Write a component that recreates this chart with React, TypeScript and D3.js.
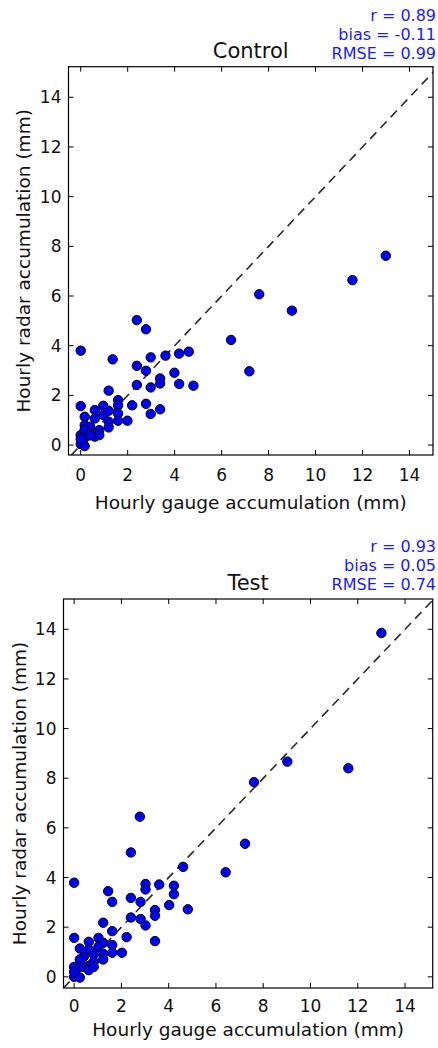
import React from "react";
import * as d3 from "d3";

// gauge vs radar hourly accumulation (mm)
const controlGauge = [2.39, 2.78, 0, 1.36, 6.4, 7.18, 2.39, 2.98, 3.61, 4.19, 4.6, 2.78, 3.99, 3.38, 2.39, 2.98, 3.38, 4.19, 4.8, 1.19, 0, 1.59, 1.59, 2.19, 2.78, 3.38, 2.98, 0.96, 0.6, 0.96, 1.19, 1.59, 0.17, 0.6, 1.19, 1.59, 1.99, 1.19, 0.17, 0.4, 0.79, 0, 0.17, 0.4, 0.6, 0.79, 0, 0.17, 0.17, 0.4, 0, 7.6, 8.99, 11.57, 12.99];
const controlRadar = [5.03, 4.66, 3.8, 3.45, 4.23, 2.97, 3.19, 3.53, 3.6, 3.68, 3.76, 2.99, 2.91, 2.68, 2.42, 2.32, 2.48, 2.46, 2.39, 2.19, 1.57, 1.81, 1.6, 1.6, 1.66, 1.44, 1.25, 1.58, 1.41, 1.21, 1.38, 1.27, 1.14, 1.07, 0.94, 0.98, 0.98, 0.71, 0.8, 0.74, 0.6, 0.4, 0.62, 0.47, 0.34, 0.4, 0.04, -0.04, 0.3, 0.39, 0.24, 6.07, 5.41, 6.64, 7.62];

const testGauge = [2.78, 2.4, 7.23, 6.41, 4.61, 0, 1.44, 1.61, 3.02, 3.02, 3.6, 4.22, 4.22, 2.4, 2.81, 4.02, 3.42, 3.42, 4.81, 2.4, 2.81, 3.02, 1.23, 1.61, 2.22, 3.42, 0, 0.62, 1.03, 1.23, 1.03, 1.61, 1.61, 2.02, 0.24, 0.62, 1.23, 0.83, 1.23, 0.41, 0.24, 0.83, 0.62, 0.41, 0.24, 0, 0, 0.24, 0, 0.62, 0.83, 7.61, 9.02, 11.6, 13.0];
const testRadar = [6.45, 5.01, 5.36, 4.21, 4.43, 3.79, 3.45, 3.02, 3.74, 3.52, 3.72, 3.67, 3.33, 3.18, 3.02, 2.89, 2.69, 2.46, 2.72, 2.39, 2.33, 2.07, 2.18, 1.84, 1.6, 1.44, 1.57, 1.41, 1.57, 1.37, 1.22, 1.28, 0.97, 0.97, 1.14, 1.1, 0.93, 0.9, 0.7, 0.81, 0.7, 0.6, 0.44, 0.4, 0.4, 0.4, 0, -0.03, 0.2, 0.27, 0.4, 7.84, 8.67, 8.4, 13.85];

const ticks = [0, 2, 4, 6, 8, 10, 12, 14];
const controlStats = ["r = 0.89", "bias = -0.11", "RMSE = 0.99"];
const testStats = ["r = 0.93", "bias = 0.05", "RMSE = 0.74"];

const font = "DejaVu Sans, sans-serif";

const Panel = ({ id, title, gx, gy, stats, box, xDom, yDom, txt }) => {
  const x = d3.scaleLinear().domain(xDom).range([box.left, box.right]);
  const y = d3.scaleLinear().domain(yDom).range([box.bottom, box.top]);
  const lo = Math.max(xDom[0], yDom[0]);
  const hi = Math.min(xDom[1], yDom[1]) + 1;
  const tl = 5;
  return (
    <g>
      <defs>
        <clipPath id={"clip" + id}>
          <rect x={box.left} y={box.top} width={box.right - box.left} height={box.bottom - box.top} />
        </clipPath>
      </defs>
      <g clipPath={`url(#clip${id})`}>
        <line x1={x(lo)} y1={y(lo)} x2={x(hi)} y2={y(hi)} stroke="#2a2a2a" strokeWidth={1.6} strokeDasharray="9,6" />
        {gx.map((v, i) => (
          <circle key={i} cx={x(v)} cy={y(gy[i])} r={4.7} fill="#0000ff" stroke="#000" strokeWidth={1} />
        ))}
      </g>
      <rect x={box.left} y={box.top} width={box.right - box.left} height={box.bottom - box.top} fill="none" stroke="#000" strokeWidth={1.2} />
      {ticks.map((t) => (
        <g key={"x" + t}>
          <line x1={x(t)} x2={x(t)} y1={box.bottom} y2={box.bottom - tl} stroke="#000" />
          <line x1={x(t)} x2={x(t)} y1={box.top} y2={box.top + tl} stroke="#000" />
          <text x={x(t)} y={txt.xTick} textAnchor="middle" fontSize={17} fontFamily={font} fill="#111">{t}</text>
        </g>
      ))}
      {ticks.map((t) => (
        <g key={"y" + t}>
          <line x1={box.left} x2={box.left + tl} y1={y(t)} y2={y(t)} stroke="#000" />
          <line x1={box.right} x2={box.right - tl} y1={y(t)} y2={y(t)} stroke="#000" />
          <text x={box.left - 7} y={y(t) + 6} textAnchor="end" fontSize={17} fontFamily={font} fill="#111">{t}</text>
        </g>
      ))}
      <text x={(box.left + box.right) / 2} y={txt.xLabel} textAnchor="middle" fontSize={18.5} fontFamily={font} fill="#111">
        Hourly gauge accumulation (mm)
      </text>
      <text transform={`translate(${txt.yLabel},${(box.top + box.bottom) / 2}) rotate(-90)`} textAnchor="middle" fontSize={18.5} fontFamily={font} fill="#111">
        Hourly radar accumulation (mm)
      </text>
      <text x={(box.left + box.right) / 2} y={txt.title} textAnchor="middle" fontSize={21} fontFamily={font} fill="#111">
        {title}
      </text>
      {stats.map((s, i) => (
        <text key={s} x={436} y={txt.stats + i * 19} textAnchor="end" fontSize={16} fontFamily={font} fill="#1a1aff">
          {s}
        </text>
      ))}
    </g>
  );
};

export default function App() {
  return (
    <svg width={438} height={1048} style={{ position: "absolute", left: 0, top: 0, background: "#fff" }}>
      <rect width={438} height={1048} fill="#fff" />
      <Panel
        id="c"
        title="Control"
        gx={controlGauge}
        gy={controlRadar}
        stats={controlStats}
        box={{ left: 68.5, right: 433, top: 66.7, bottom: 455 }}
        xDom={[-0.52, 15.0]}
        yDom={[-0.4, 15.23]}
        txt={{ xTick: 481, xLabel: 509, yLabel: 30, title: 58.3, stats: 20.7 }}
      />
      <Panel
        id="t"
        title="Test"
        gx={testGauge}
        gy={testRadar}
        stats={testStats}
        box={{ left: 63.5, right: 432.7, top: 599, bottom: 988 }}
        xDom={[-0.45, 15.17]}
        yDom={[-0.45, 15.22]}
        txt={{ xTick: 1012, xLabel: 1036, yLabel: 26, title: 590, stats: 552 }}
      />
    </svg>
  );
}
